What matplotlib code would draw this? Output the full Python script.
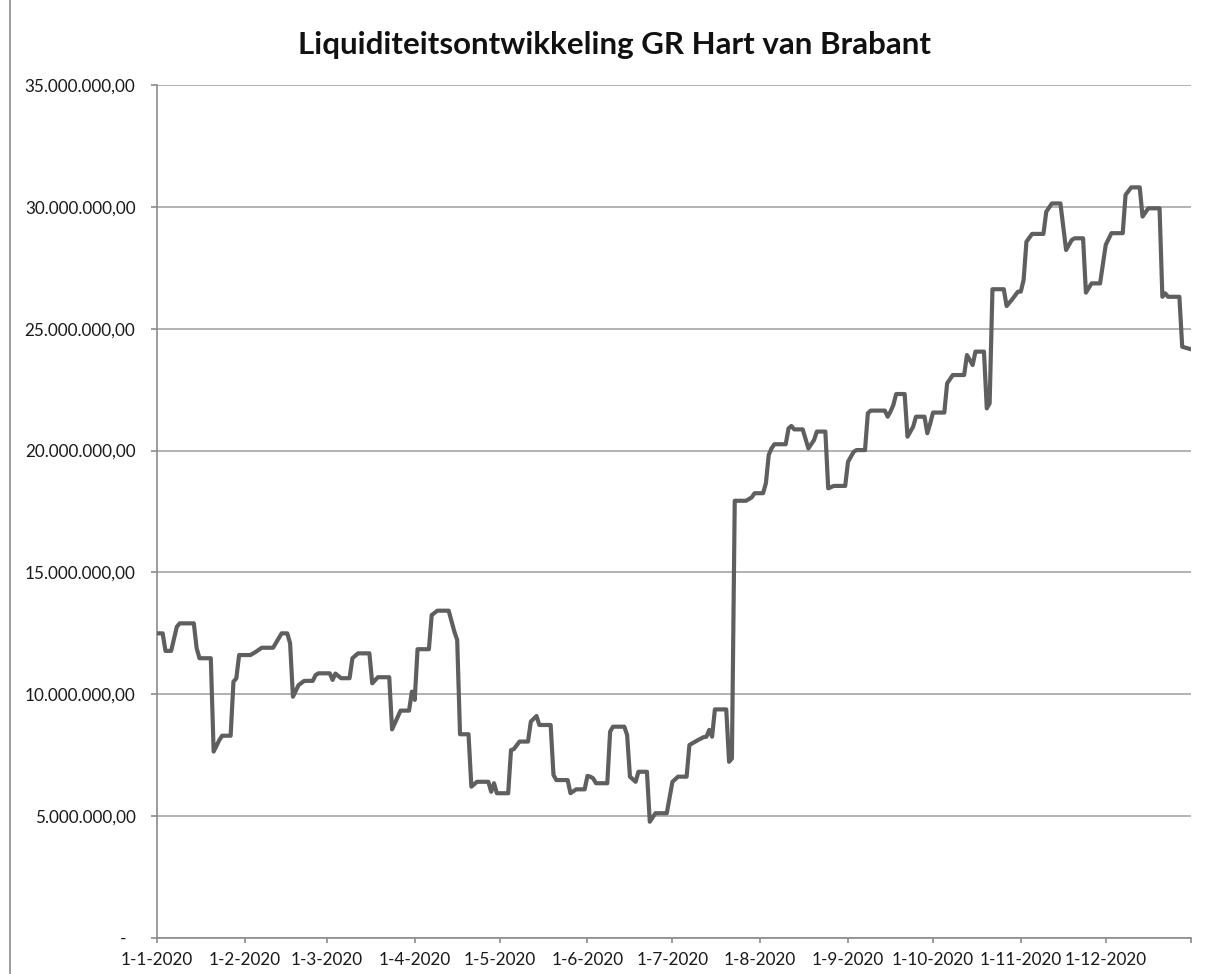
import pandas as pd
import numpy as np
import matplotlib
matplotlib.use("Agg")
import matplotlib.pyplot as plt
from matplotlib.ticker import FuncFormatter, FixedLocator
from matplotlib.lines import Line2D
import matplotlib.dates as mdates

plt.rcParams['font.family'] = ['Lato', 'DejaVu Sans']

title = "Liquiditeitsontwikkeling GR Hart van Brabant"
start_date = "2020-01-01"
end_date = "2020-12-31"

# day number since 1-1-2020 and balance in millions of euros
days = [0, 2, 3, 5, 7, 8, 13, 14, 15, 19, 20, 22, 23, 26, 27, 28, 29, 33, 35, 37,
        41, 44, 46, 47, 48, 50, 52, 55, 56, 57, 61, 62, 63, 65, 68, 69, 71, 75, 76, 78,
        82, 83, 85, 86, 89, 90, 91, 92, 96, 97, 99, 103, 105, 106, 107, 110, 111, 113, 117, 118,
        119, 120, 124, 125, 126, 128, 131, 132, 134, 135, 139, 140, 141, 145, 146, 148, 151, 152, 153, 154,
        155, 159, 160, 161, 165, 166, 167, 169, 170, 173, 174, 176, 180, 182, 184, 187, 188, 191, 193, 194,
        195, 196, 197, 201, 202, 203, 204, 208, 210, 211, 214, 215, 216, 217, 218, 222, 223, 224, 225, 228,
        230, 232, 233, 236, 237, 239, 243, 244, 246, 247, 250, 251, 252, 257, 258, 259, 260, 261, 264, 265,
        267, 268, 271, 272, 273, 274, 278, 279, 281, 285, 286, 288, 289, 292, 293, 294, 295, 299, 300, 302,
        304, 305, 306, 307, 309, 313, 314, 316, 319, 321, 323, 324, 327, 328, 330, 333, 335, 337, 341, 342,
        344, 347, 348, 350, 354, 355, 356, 357, 361, 362, 365]
saldo = [12.50, 12.50, 11.78, 11.78, 12.77, 12.91, 12.91, 11.89, 11.48, 11.48, 7.65, 8.12, 8.30, 8.30, 10.52, 10.65, 11.61, 11.61, 11.75, 11.91,
         11.91, 12.50, 12.50, 12.09, 9.90, 10.38, 10.55, 10.55, 10.79, 10.86, 10.86, 10.59, 10.85, 10.66, 10.66, 11.48, 11.68, 11.68, 10.45, 10.70,
         10.70, 8.56, 9.08, 9.33, 9.33, 10.11, 9.77, 11.85, 11.85, 13.25, 13.43, 13.43, 12.57, 12.23, 8.36, 8.36, 6.21, 6.41, 6.41, 6.00,
         6.35, 5.94, 5.94, 7.71, 7.75, 8.06, 8.06, 8.88, 9.11, 8.74, 8.74, 6.69, 6.48, 6.48, 5.94, 6.10, 6.10, 6.65, 6.62, 6.55,
         6.35, 6.35, 8.47, 8.67, 8.67, 8.33, 6.62, 6.41, 6.82, 6.82, 4.77, 5.12, 5.12, 6.41, 6.62, 6.62, 7.92, 8.12, 8.24, 8.26,
         8.54, 8.26, 9.38, 9.38, 7.23, 7.37, 17.94, 17.94, 18.08, 18.25, 18.25, 18.66, 19.82, 20.09, 20.26, 20.26, 20.91, 21.01, 20.87, 20.87,
         20.09, 20.43, 20.78, 20.78, 18.45, 18.55, 18.55, 19.54, 19.95, 20.02, 20.02, 21.53, 21.64, 21.64, 21.39, 21.60, 21.87, 22.32, 22.32, 20.57,
         20.98, 21.39, 21.39, 20.71, 21.10, 21.56, 21.56, 22.76, 23.10, 23.10, 23.92, 23.51, 24.06, 24.06, 21.73, 21.94, 26.62, 26.62, 25.93, 26.21,
         26.52, 26.52, 27.00, 28.57, 28.89, 28.89, 29.80, 30.14, 30.14, 28.23, 28.64, 28.71, 28.71, 26.48, 26.86, 26.86, 28.44, 28.92, 28.92, 30.49,
         30.80, 30.80, 29.60, 29.94, 29.94, 26.31, 26.45, 26.31, 26.31, 24.26, 24.16]

y_ticks = [0, 5e6, 10e6, 15e6, 20e6, 25e6, 30e6, 35e6]

dates = pd.Timestamp(start_date) + pd.to_timedelta(days, unit="D")
values = np.array(saldo) * 1e6

W, H = 1208, 974
fig = plt.figure(figsize=(W / 100, H / 100), dpi=100)
ax = fig.add_axes([157 / W, 1 - 938 / H, (1190.7 - 157) / W, (938 - 85) / H])

ax.plot(dates, values, color="#5f5f5f", lw=3.0, solid_joinstyle="round", zorder=3)

ax.set_xlim(pd.Timestamp(start_date), pd.Timestamp(end_date))
ax.set_ylim(0, 35e6)

# month ticks plus the end of the axis
month_starts = list(pd.date_range(start_date, periods=12, freq="MS")) + [pd.Timestamp(end_date)]
ax.xaxis.set_major_locator(FixedLocator(mdates.date2num(month_starts)))

def fmt_date(x, pos):
    d = mdates.num2date(x)
    if pos == 12:
        return ""
    return f"{d.day}-{d.month}-{d.year}"

def fmt_money(v, pos):
    if v == 0:
        return "-  "
    s = f"{v:,.2f}"
    return s.replace(",", "X").replace(".", ",").replace("X", ".")

ax.xaxis.set_major_formatter(FuncFormatter(fmt_date))
ax.yaxis.set_major_locator(FixedLocator(y_ticks))
ax.yaxis.set_major_formatter(FuncFormatter(fmt_money))

ax.grid(axis="y", color="#a6a6a6", lw=1.2)
ax.set_axisbelow(True)
for side in ["top", "right"]:
    ax.spines[side].set_visible(False)
for side in ["left", "bottom"]:
    ax.spines[side].set_color("#8c8c8c")
    ax.spines[side].set_linewidth(1.2)
ax.tick_params(axis="y", length=4.5, width=1.2, color="#8c8c8c", pad=11, labelsize=12.3, labelcolor="#1a1a1a")
ax.tick_params(axis="x", length=3.8, width=1.2, color="#8c8c8c", pad=6, labelsize=12.3, labelcolor="#1a1a1a")

fig.text(614 / W, 1 - 45 / H, title, ha="center", va="center", fontsize=22.5, fontweight="bold", color="#111111")

# chart area border on the left
fig.add_artist(Line2D([9.5 / W, 9.5 / W], [0, 1], transform=fig.transFigure, color="#8c8c8c", lw=1.2))

fig.savefig("out.png", dpi=100)
